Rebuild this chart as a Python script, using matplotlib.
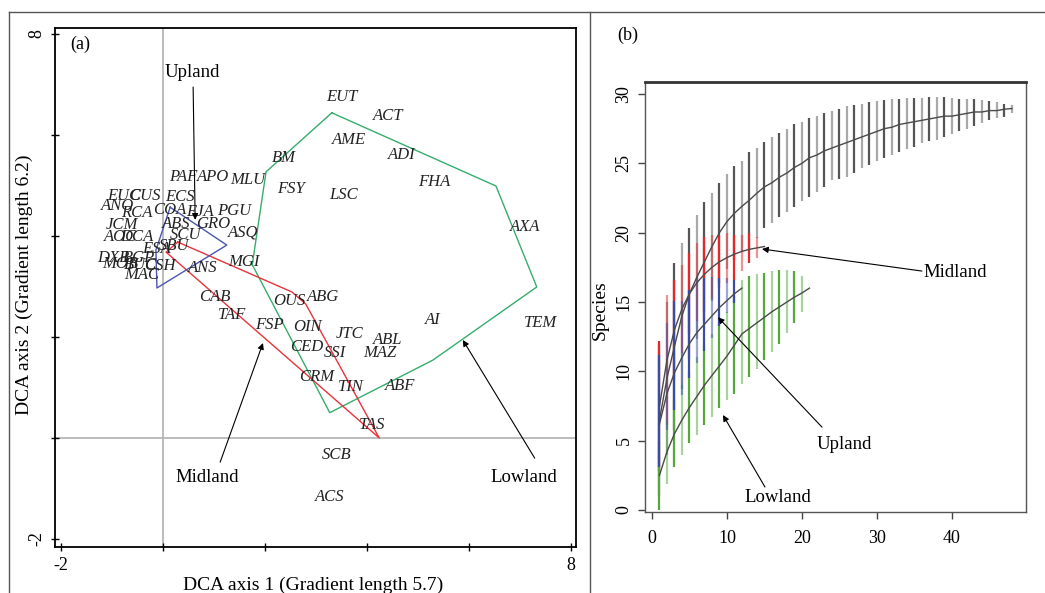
import matplotlib.pyplot as plt
import numpy as np
from matplotlib.colors import to_rgba
from matplotlib.lines import Line2D

plt.rcParams['font.family'] = ['Liberation Serif', 'DejaVu Serif']

# ---- panel (a): DCA species scores ----
species = ['EUT', 'ACT', 'AME', 'ADI', 'BM', 'MLU', 'FSY', 'LSC', 'FHA', 'PAF', 'APO',
           'EUC', 'CUS', 'ECS', 'ANO', 'RCA', 'COA', 'EJA', 'PGU', 'ABS', 'GRO', 'JCM',
           'SCU', 'ASQ', 'AOC', 'DCA', 'ESA', 'SBU', 'MGI', 'DXB', 'BGP', 'MOB', 'BUC',
           'CSH', 'MAC', 'ANS', 'CAB', 'TAF', 'FSP', 'OUS', 'ABG', 'OIN', 'JTC', 'ABL',
           'CED', 'SSI', 'MAZ', 'CRM', 'TIN', 'ABF', 'TAS', 'SCB', 'ACS', 'AI', 'AXA', 'TEM']
axis1 = [3.51, 4.41, 3.65, 4.69, 2.37, 1.67, 2.51, 3.55, 5.31, 0.39, 0.98,
         -0.76, -0.35, 0.33, -0.90, -0.51, 0.14, 0.73, 1.39, 0.25, 0.98, -0.80,
         0.45, 1.57, -0.84, -0.51, -0.12, 0.22, 1.59, -0.98, -0.47, -0.84, -0.45,
         -0.06, -0.41, 0.78, 1.02, 1.35, 2.08, 2.47, 3.14, 2.84, 3.65, 4.41,
         2.82, 3.37, 4.25, 3.02, 3.69, 4.65, 4.10, 3.41, 3.27, 5.29, 7.10, 7.41]
axis2 = [6.75, 6.38, 5.90, 5.60, 5.54, 5.11, 4.93, 4.81, 5.07, 5.17, 5.17,
         4.79, 4.79, 4.77, 4.59, 4.46, 4.51, 4.48, 4.50, 4.24, 4.24, 4.22,
         4.02, 4.06, 3.98, 3.98, 3.74, 3.80, 3.49, 3.56, 3.56, 3.45, 3.43,
         3.41, 3.23, 3.37, 2.79, 2.44, 2.24, 2.71, 2.79, 2.20, 2.06, 1.94,
         1.80, 1.68, 1.68, 1.21, 1.01, 1.03, 0.26, -0.34, -1.17, 2.34, 4.18, 2.28]

lowland_hull_x = [3.31, 6.53, 7.33, 5.29, 3.27, 1.75, 2.02]
lowland_hull_y = [6.44, 4.99, 2.99, 1.54, 0.50, 3.43, 5.27]
midland_hull_x = [0.29, 2.53, 2.80, 4.24, 0.06]
midland_hull_y = [3.88, 2.89, 2.65, 0.00, 3.68]
upland_hull_x = [0.14, 1.25, -0.12, -0.14]
upland_hull_y = [4.57, 3.82, 2.97, 3.72]

# ---- panel (b): species accumulation ----
all_mean = [6.5, 9.5, 11.8, 14.0, 15.6, 16.8, 17.9, 19.0, 20.0, 20.8, 21.4, 21.9, 22.35, 22.85,
            23.3, 23.6, 24.0, 24.3, 24.7, 25.0, 25.4, 25.6, 25.9, 26.1, 26.3, 26.5, 26.7, 26.9,
            27.1, 27.3, 27.5, 27.6, 27.8, 27.9, 28.0, 28.1, 28.2, 28.3, 28.4, 28.4, 28.5, 28.6,
            28.7, 28.7, 28.8, 28.8, 28.9, 28.95]
all_upper = [12.0, 15.0, 17.8, 19.25, 20.3, 21.3, 22.2, 22.85, 23.6, 24.2, 24.8, 25.2, 25.8, 26.1,
             26.5, 26.9, 27.2, 27.5, 27.8, 28.0, 28.3, 28.4, 28.6, 28.8, 28.95, 29.1, 29.2, 29.3,
             29.4, 29.5, 29.55, 29.6, 29.65, 29.7, 29.7, 29.7, 29.75, 29.8, 29.75, 29.7, 29.65,
             29.6, 29.6, 29.55, 29.5, 29.4, 29.3, 29.2]
all_lower = [1.0, 4.0, 5.8, 8.75, 10.9, 12.3, 13.6, 15.1, 16.4, 17.4, 18.0, 18.6, 18.9, 19.6,
             20.3, 20.7, 21.1, 21.5, 21.85, 22.3, 22.6, 22.9, 23.3, 23.8, 23.9, 24.0, 24.3, 24.65,
             24.9, 25.2, 25.4, 25.6, 25.8, 26.0, 26.2, 26.45, 26.6, 26.7, 26.9, 27.1, 27.3, 27.45,
             27.7, 27.9, 28.1, 28.3, 28.35, 28.6]

mid_mean = [7.5, 10.8, 13.0, 14.5, 15.6, 16.4, 17.0, 17.5, 17.9, 18.2, 18.45, 18.65, 18.8, 18.9, 19.0]
mid_upper = [12.2, 15.5, 16.6, 17.7, 18.5, 19.25, 19.7, 19.8, 19.8, 20.0, 19.8, 19.8, 20.0, 19.7, 19.0]
mid_lower = [2.8, 6.1, 9.4, 11.3, 12.7, 13.6, 14.3, 15.2, 16.0, 16.4, 16.6, 17.2, 17.8, 18.2, 19.0]

up_mean = [6.2, 8.4, 9.9, 11.0, 12.0, 12.8, 13.4, 14.0, 14.6, 15.1, 15.6, 16.0]
up_upper = [11.2, 13.5, 15.1, 15.1, 15.9, 16.8, 16.7, 16.8, 16.7, 16.7, 16.6, 16.0]
up_lower = [3.1, 5.8, 7.2, 8.3, 9.5, 10.6, 11.5, 12.4, 13.3, 14.2, 14.9, 16.0]

low_mean = [2.5, 4.2, 5.5, 6.5, 7.4, 8.2, 9.0, 9.7, 10.4, 11.1, 11.9, 12.7, 13.1, 13.5,
            13.9, 14.3, 14.65, 15.0, 15.35, 15.65, 16.0]
low_upper = [5.0, 6.5, 7.9, 9.0, 10.0, 11.0, 11.9, 12.7, 13.5, 14.3, 15.4, 16.6, 16.85, 17.05,
             17.1, 17.2, 17.3, 17.3, 17.2, 16.9, 16.0]
low_lower = [0.0, 1.9, 3.1, 4.0, 4.8, 5.4, 6.1, 6.7, 7.35, 7.9, 8.4, 9.1, 9.6, 10.15,
             10.8, 11.4, 12.0, 12.75, 13.5, 14.3, 16.0]

fig = plt.figure(figsize=(10.45, 5.93), dpi=100)

# frame lines of the composite figure
for xs, ys in [([0.0086, 1.0], [0.9798, 0.9798]), ([0.0086, 0.0086], [0.0, 0.9798]),
               ([0.5646, 0.5646], [0.0, 0.9798])]:
    fig.add_artist(Line2D(xs, ys, transform=fig.transFigure, color='#555555', lw=1))

# ---------------- panel (a) ----------------
ax1 = fig.add_axes([0.0526, 0.0776, 0.4986, 0.8752])
ax1.set_xlim(-2.12, 8.1)
ax1.set_ylim(-2.16, 8.12)
ax1.axvline(0, color='#b0b0b0', lw=1.2, zorder=0)
ax1.axhline(0, color='#b0b0b0', lw=1.2, zorder=0)

for hx, hy, c in [(lowland_hull_x, lowland_hull_y, '#35ad6b'),
                  (midland_hull_x, midland_hull_y, '#e8333a'),
                  (upland_hull_x, upland_hull_y, '#4a56b0')]:
    ax1.plot(hx + hx[:1], hy + hy[:1], color=c, lw=1)

for s, x, y in zip(species, axis1, axis2):
    ax1.text(x, y, s, ha='center', va='center', style='italic', fontsize=12, color='#222222')

ax1.text(-1.82, 7.8, '(a)', fontsize=13, ha='left', va='center')

ax1.text(0.57, 7.23, 'Upland', fontsize=13.5, ha='center', va='center')
ax1.text(0.86, -0.79, 'Midland', fontsize=13.5, ha='center', va='center')
ax1.text(7.08, -0.79, 'Lowland', fontsize=13.5, ha='center', va='center')
arrow = dict(arrowstyle='-|>', color='black', lw=0.8, mutation_scale=9, shrinkA=0, shrinkB=0)
ax1.annotate('', xy=(0.63, 4.32), xytext=(0.59, 6.95), arrowprops=arrow)
ax1.annotate('', xy=(1.96, 1.88), xytext=(1.12, -0.48), arrowprops=arrow)
ax1.annotate('', xy=(5.88, 1.94), xytext=(7.29, -0.40), arrowprops=arrow)

ax1.set_xticks([-2, 0, 2, 4, 6, 8])
ax1.set_xticklabels(['-2', '', '', '', '', '8'])
ax1.set_yticks([-2, 0, 2, 4, 6, 8])
ax1.set_yticklabels(['-2', '', '', '', '', '8'], rotation=90, va='center')
ax1.tick_params(direction='inout', length=6, width=1, labelsize=13, pad=4)
for sp in ax1.spines.values():
    sp.set_linewidth(1.3)
ax1.set_xlabel('DCA axis 1 (Gradient length 5.7)', fontsize=14)
ax1.xaxis.set_label_coords(0.495, -0.058)
ax1.set_ylabel('DCA axis 2 (Gradient length 6.2)', fontsize=14)
ax1.yaxis.set_label_coords(-0.042, 0.505)

# ---------------- panel (b) ----------------
ax2 = fig.add_axes([0.6172, 0.1366, 0.3646, 0.7251])
ax2.set_xlim(-0.93, 49.87)
ax2.set_ylim(-0.14, 30.86)


def bars(mean, lower, upper, color):
    x = np.arange(1, len(mean) + 1)
    cols = [to_rgba(color, 1.0 if i % 2 == 0 else 0.5) for i in range(len(x))]
    ax2.vlines(x, lower, upper, colors=cols, lw=1.6)
    return x


groups = [(all_mean, all_lower, all_upper, '#555555'),
          (mid_mean, mid_lower, mid_upper, '#e8262a'),
          (low_mean, low_lower, low_upper, '#55a83a'),
          (up_mean, up_lower, up_upper, '#3a4ca8')]
xs = [bars(m, lo, hi, c) for m, lo, hi, c in groups]
for x, (m, lo, hi, c) in zip(xs, groups):
    ax2.plot(x, m, color='#4a4a4a', lw=1)

ax2.text(40.4, 17.16, 'Midland', fontsize=13.5, ha='center', va='center')
ax2.text(25.7, 4.76, 'Upland', fontsize=13.5, ha='center', va='center')
ax2.text(16.8, 0.94, 'Lowland', fontsize=13.5, ha='center', va='center')
ax2.annotate('', xy=(14.67, 18.82), xytext=(36.0, 17.23), arrowprops=arrow)
ax2.annotate('', xy=(8.8, 13.9), xytext=(22.67, 5.98), arrowprops=arrow)
ax2.annotate('', xy=(9.47, 6.85), xytext=(15.07, 1.66), arrowprops=arrow)

ax2.set_xticks([0, 10, 20, 30, 40])
ax2.set_yticks([0, 5, 10, 15, 20, 25, 30])
ax2.set_yticklabels(['0', '5', '10', '15', '20', '25', '30'], rotation=90, va='center')
ax2.tick_params(direction='out', length=5, width=1, labelsize=13, color='#444444')
ax2.tick_params(axis='x', pad=8)
ax2.tick_params(axis='y', pad=4)
for sp in ax2.spines.values():
    sp.set_linewidth(1.0)
    sp.set_color('#555555')
ax2.spines['top'].set_linewidth(2)
ax2.spines['top'].set_color('#333333')
ax2.set_ylabel('Species', fontsize=14)
ax2.yaxis.set_label_coords(-0.095, 0.47)

fig.text(628 / 1045, 1 - 35 / 593, '(b)', fontsize=13, ha='center', va='center')

fig.savefig('out.png', dpi=100)
